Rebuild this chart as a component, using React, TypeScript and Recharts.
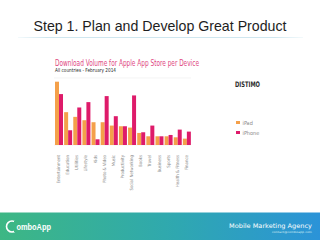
import React from 'react';
import {
  BarChart,
  Bar,
  XAxis,
  YAxis,
  CartesianGrid,
  Legend,
} from 'recharts';

const categories = [
  'Entertainment',
  'Education',
  'Utilities',
  'Lifestyle',
  'Kids',
  'Photo & Video',
  'Music',
  'Productivity',
  'Social Networking',
  'Books',
  'Travel',
  'Business',
  'Sports',
  'Health & Fitness',
  'Finance',
];

const ipadValues = [94.5, 49, 42, 37, 34, 34, 29, 28, 26, 18, 13, 13, 13, 11.5, 9.5];
const iphoneValues = [76, 22, 56, 64, 8.5, 73, 43, 28, 74, 19, 29, 13, 15, 23, 20];

const yTicks = [0, 10, 20, 30, 40, 50, 60, 70, 80, 90, 100];

const IPAD_COLOR = '#F4A04A';
const IPHONE_COLOR = '#DE1B6A';

const data = categories.map((name, i) => ({
  name,
  iPad: ipadValues[i],
  iPhone: iphoneValues[i],
}));

// rotated category labels under the bars
const CategoryTick = ({ x, y, payload }: { x?: number; y?: number; payload?: { value: string } }) => (
  <text
    x={0}
    y={0}
    transform={`translate(${(x ?? 0) + 1.5},${(y ?? 0) + 2}) rotate(-90)`}
    textAnchor="end"
    fontSize={4.4}
    fill="#8c8c8c"
    fontFamily="DejaVu Sans Condensed, DejaVu Sans, sans-serif"
  >
    {payload?.value}
  </text>
);

interface LegendItem {
  value: string;
  color?: string;
}

const SideLegend = ({ payload }: { payload?: LegendItem[] }) => {
  if (!payload) return null;
  return (
    <div>
      {payload.map((entry, index) => (
        <div
          key={index}
          style={{ display: 'flex', alignItems: 'center', height: 10 }}
        >
          <span
            style={{
              width: 3.5,
              height: 3.5,
              marginRight: 3,
              backgroundColor: entry.color,
              display: 'inline-block',
            }}
          />
          <span
            style={{
              fontSize: 5.5,
              color: '#8a8a8a',
              fontFamily: 'DejaVu Sans Condensed, DejaVu Sans, sans-serif',
            }}
          >
            {entry.value}
          </span>
        </div>
      ))}
    </div>
  );
};

export default function App() {
  return (
    <div
      style={{
        position: 'fixed',
        left: 0,
        top: 0,
        width: 320,
        height: 240,
        background: '#ffffff',
        overflow: 'hidden',
      }}
    >
      <svg
        width={320}
        height={240}
        style={{ position: 'absolute', left: 0, top: 0 }}
      >
        <defs>
          <linearGradient id="footer" x1="0" y1="0" x2="1" y2="0">
            <stop offset="0%" stopColor="#3DB784" />
            <stop offset="55%" stopColor="#2FA8B0" />
            <stop offset="100%" stopColor="#2B93D8" />
          </linearGradient>
          <linearGradient id="rule" x1="0" y1="0" x2="1" y2="0">
            <stop offset="0%" stopColor="#d6ebf2" stopOpacity={0.3} />
            <stop offset="10%" stopColor="#cfe6ef" />
            <stop offset="90%" stopColor="#cfe6ef" />
            <stop offset="100%" stopColor="#d6ebf2" stopOpacity={0.3} />
          </linearGradient>
        </defs>

        {/* slide title */}
        <text
          x={33.5}
          y={30.5}
          fontSize={14.5}
          fill="#1e1e1e"
          fontFamily="Liberation Sans, Arial, sans-serif"
          textLength={253}
          lengthAdjust="spacingAndGlyphs"
        >
          Step 1. Plan and Develop Great Product
        </text>
        <rect x={18} y={37} width={285} height={1} fill="url(#rule)" />

        {/* chart heading */}
        <text
          x={55}
          y={65.8}
          fontSize={8}
          fill="#E0467F"
          fontFamily="DejaVu Sans Condensed, DejaVu Sans, sans-serif"
          textLength={144}
          lengthAdjust="spacingAndGlyphs"
        >
          Download Volume for Apple App Store per Device
        </text>
        <text
          x={55}
          y={71.8}
          fontSize={5.4}
          fill="#2a2a2a"
          fontFamily="DejaVu Sans Condensed, DejaVu Sans, sans-serif"
          textLength={61}
          lengthAdjust="spacingAndGlyphs"
        >
          All countries - February 2014
        </text>

        {/* DISTIMO mark */}
        <text
          x={235}
          y={87.3}
          fontSize={7.6}
          fontWeight="bold"
          fill="#2b2b2b"
          fontFamily="DejaVu Sans Condensed, DejaVu Sans, sans-serif"
          textLength={25}
          lengthAdjust="spacingAndGlyphs"
        >
          DISTIMO
        </text>

        {/* footer band */}
        <rect x={0} y={212.5} width={320} height={28} fill="url(#footer)" />
        <circle cx={12} cy={226.5} r={5.5} fill="none" stroke="#ffffff" strokeWidth={1.6} />
        <rect x={14} y={221} width={5} height={11} fill="#3DB784" />
        <text
          x={16.5}
          y={229.8}
          fontSize={8.5}
          fontWeight="bold"
          fill="#ffffff"
          fontFamily="Liberation Sans, Arial, sans-serif"
          textLength={34.5}
          lengthAdjust="spacingAndGlyphs"
        >
          omboApp
        </text>
        <text
          x={229}
          y={227.5}
          fontSize={6.3}
          fill="#ffffff"
          fontFamily="DejaVu Sans, sans-serif"
          textLength={83}
          lengthAdjust="spacingAndGlyphs"
        >
          Mobile Marketing Agency
        </text>
        <text
          x={272}
          y={233}
          fontSize={2.6}
          fill="#d8eef5"
          fontFamily="DejaVu Sans, sans-serif"
          textLength={40}
          lengthAdjust="spacingAndGlyphs"
        >
          contact@comboapp.com
        </text>
      </svg>

      <div style={{ position: 'absolute', left: 0, top: 0 }}>
        <BarChart
          width={320}
          height={240}
          data={data}
          margin={{ top: 78, right: 89, bottom: 50, left: 54 }}
          barGap={0}
          barSize={4}
        >
          <CartesianGrid vertical={false} stroke="#ececec" strokeWidth={0.6} />
          <XAxis
            dataKey="name"
            height={45}
            interval={0}
            tickLine={false}
            axisLine={false}
            tick={<CategoryTick />}
          />
          <YAxis
            orientation="right"
            domain={[0, 100]}
            ticks={yTicks}
            width={0}
            tick={false}
            tickLine={false}
            axisLine={{ stroke: '#e6e6e6', strokeWidth: 0.6 }}
          />
          <Legend
            layout="vertical"
            align="right"
            verticalAlign="top"
            content={<SideLegend />}
            wrapperStyle={{ left: 236, top: 117.5, width: 40 }}
          />
          <Bar dataKey="iPad" fill={IPAD_COLOR} isAnimationActive={false} />
          <Bar dataKey="iPhone" fill={IPHONE_COLOR} isAnimationActive={false} />
        </BarChart>
      </div>
    </div>
  );
}
